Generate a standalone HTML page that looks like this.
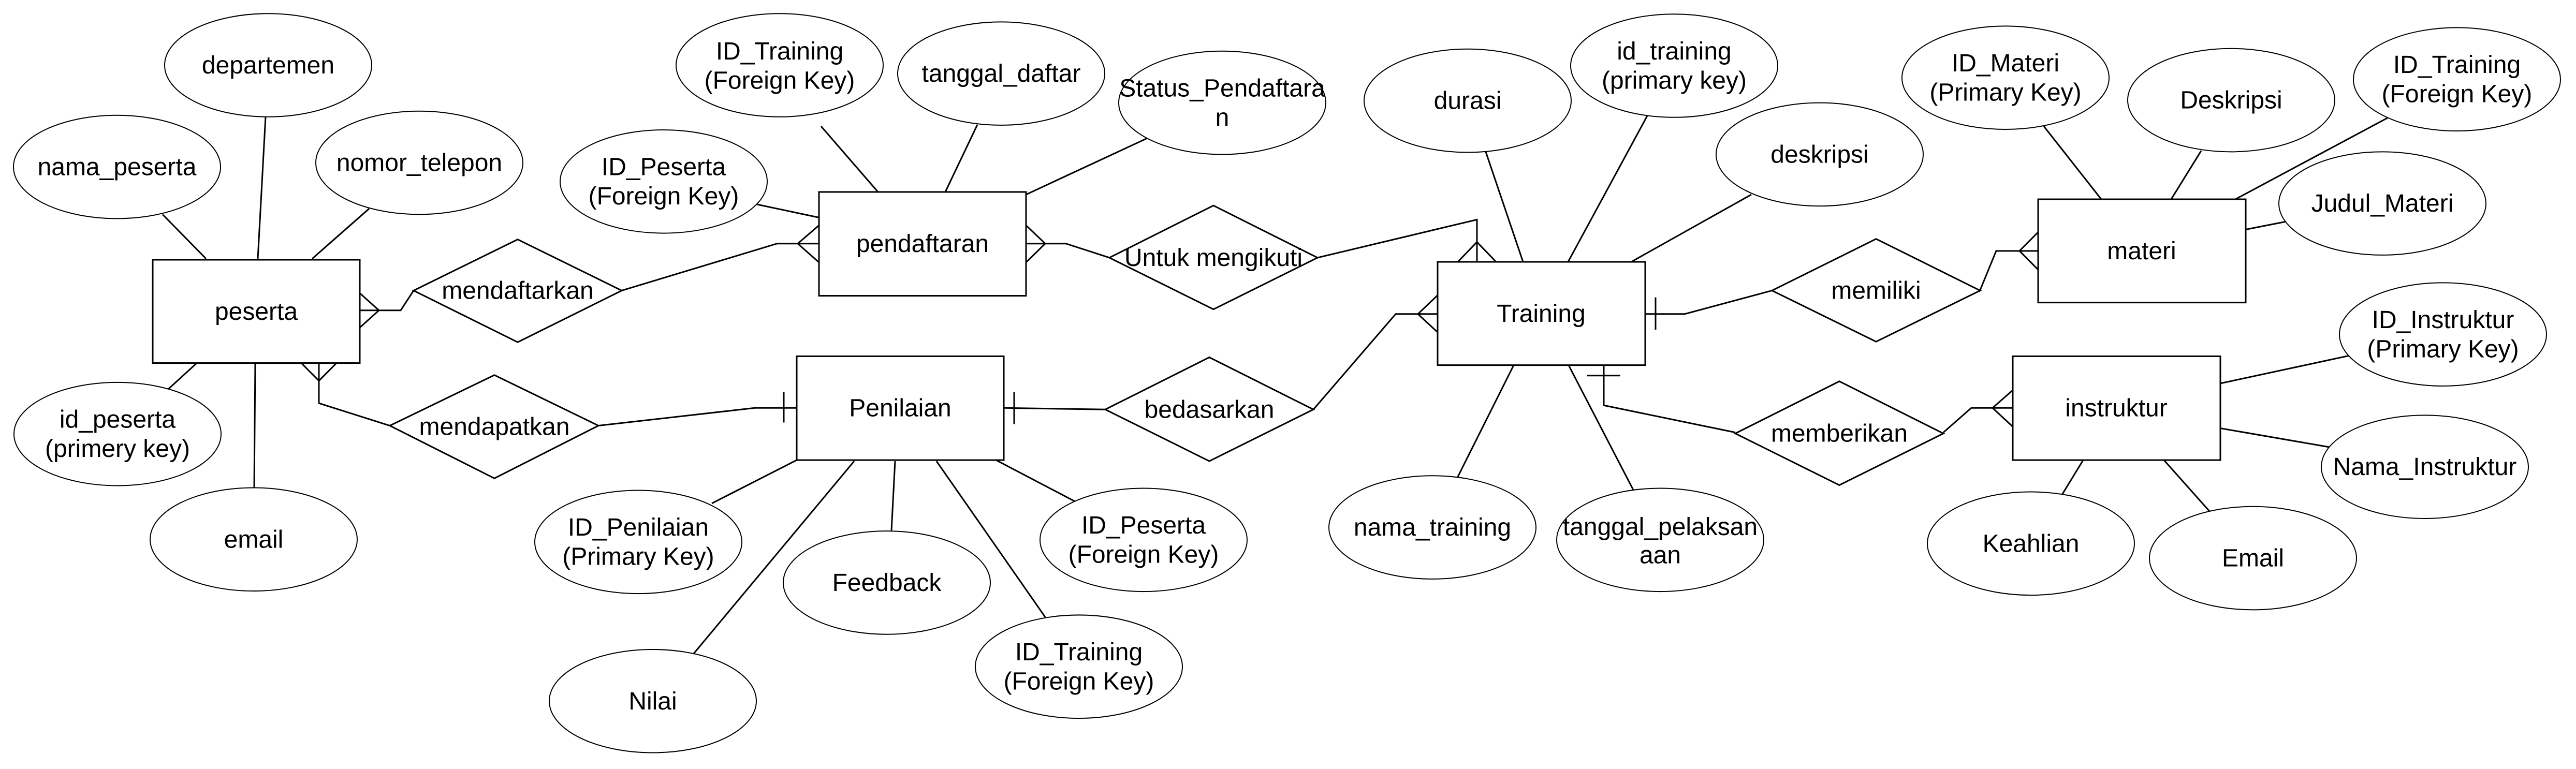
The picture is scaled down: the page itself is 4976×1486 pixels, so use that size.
<!DOCTYPE html>
<html><head><meta charset="utf-8"><style>
html,body{margin:0;padding:0;background:#fff;}
svg{display:block;}
text{font-family:"Liberation Sans",Arial,sans-serif;font-size:48px;fill:#000;text-anchor:middle;}
</style></head><body>
<svg width="4976" height="1486" viewBox="0 0 4976 1486" xmlns="http://www.w3.org/2000/svg">
<g transform="scale(1,1.008)">
<g fill="none" stroke="#000" stroke-width="3">
<!-- peserta attrs -->
<line x1="314" y1="411" x2="398" y2="496"/>
<line x1="513" y1="224" x2="498" y2="496"/>
<line x1="713" y1="400" x2="603" y2="496"/>
<line x1="379" y1="697" x2="325" y2="746"/>
<line x1="493" y1="697" x2="491" y2="935"/>
<!-- peserta - mendaftarkan - pendaftaran -->
<polyline points="695,595 774,595 799,557"/>
<polyline points="695,562 732,595 695,628"/>
<polyline points="1201,557 1501,467 1582,467"/>
<polyline points="1582,432 1541,467 1582,503"/>
<line x1="1463" y1="392" x2="1582" y2="417"/>
<line x1="1586" y1="242" x2="1696" y2="368"/>
<!-- peserta - mendapatkan - penilaian -->
<polyline points="582,696 616,730 650,696"/>
<polyline points="616,696 616,773 753,816"/>
<polyline points="1156,816 1458,782 1539,782"/>
<line x1="1514" y1="752" x2="1514" y2="810"/>
<line x1="1375" y1="965" x2="1539" y2="882"/>
<line x1="1340" y1="1253" x2="1650" y2="884"/>
<line x1="1729" y1="884" x2="1722" y2="1017"/>
<line x1="1809" y1="884" x2="2019" y2="1183"/>
<line x1="1924" y1="882" x2="2076" y2="961"/>
<!-- pendaftaran attrs -->
<line x1="1826" y1="368" x2="1888" y2="239"/>
<line x1="1982" y1="373" x2="2216" y2="265"/>
<!-- pendaftaran - untuk mengikuti - training -->
<polyline points="1982,432 2019,467 1982,503"/>
<polyline points="1982,467 2059,467 2143,494"/>
<polyline points="2545,494 2853,421 2853,502"/>
<polyline points="2816,502 2853,464 2890,502"/>
<!-- penilaian - bedasarkan - training -->
<line x1="1959" y1="752" x2="1959" y2="813"/>
<line x1="1939" y1="782" x2="2135" y2="785"/>
<polyline points="2537,785 2696,602 2777,602"/>
<polyline points="2777,566 2739,602 2777,637"/>
<!-- training attrs -->
<line x1="2870" y1="291" x2="2942" y2="502"/>
<line x1="3182" y1="222" x2="3029" y2="502"/>
<line x1="3383" y1="373" x2="3151" y2="502"/>
<line x1="2924" y1="700" x2="2816" y2="914"/>
<line x1="3030" y1="700" x2="3157" y2="943"/>
<!-- training - memiliki - materi -->
<line x1="3198" y1="570" x2="3198" y2="632"/>
<polyline points="3178,602 3254,602 3423,557"/>
<polyline points="3825,556 3856,481 3937,481"/>
<polyline points="3937,445 3901,481 3937,517"/>
<line x1="3948" y1="242" x2="4059" y2="382"/>
<line x1="4252" y1="289" x2="4194" y2="382"/>
<line x1="4612" y1="226" x2="4318" y2="382"/>
<line x1="4338" y1="440" x2="4415" y2="425"/>
<!-- training - memberikan - instruktur -->
<line x1="3066" y1="720" x2="3130" y2="720"/>
<polyline points="3098,700 3098,777 3352,829"/>
<polyline points="3754,829 3808,782 3888,782"/>
<polyline points="3888,748 3849,782 3888,818"/>
<line x1="4289" y1="735" x2="4537" y2="682"/>
<line x1="4289" y1="821" x2="4499" y2="857"/>
<line x1="4024" y1="882" x2="3984" y2="947"/>
<line x1="4180" y1="882" x2="4268" y2="980"/>
</g>
<g fill="#fff" stroke="#000" stroke-width="3">
<!-- entities -->
<rect x="295" y="498" width="400" height="198"/>
<rect x="1582" y="368" width="400" height="199"/>
<rect x="1539" y="683" width="400" height="199"/>
<rect x="2777" y="502" width="401" height="198"/>
<rect x="3937" y="382" width="401" height="198"/>
<rect x="3888" y="683" width="401" height="199"/>
<!-- diamonds -->
<polygon points="799,557 1000,459 1201,557 1000,656"/>
<polygon points="753,816 955,719 1156,816 955,917"/>
<polygon points="2143,494 2344,394 2545,494 2344,593"/>
<polygon points="2135,785 2336,685 2537,785 2336,884"/>
<polygon points="3423,557 3624,458 3825,557 3624,655"/>
<polygon points="3352,831 3553,731 3754,831 3553,930"/>
</g>
<g fill="#fff" stroke="#000" stroke-width="2">
<ellipse cx="518" cy="125" rx="200" ry="99"/>
<ellipse cx="226" cy="320" rx="200" ry="99"/>
<ellipse cx="810" cy="312" rx="200" ry="99"/>
<ellipse cx="227" cy="832" rx="200" ry="99"/>
<ellipse cx="490" cy="1034" rx="200" ry="99"/>
<ellipse cx="1506" cy="125" rx="200" ry="99"/>
<ellipse cx="1282" cy="348" rx="200" ry="99"/>
<ellipse cx="1934" cy="141" rx="200" ry="99"/>
<ellipse cx="2361" cy="197" rx="200" ry="99"/>
<ellipse cx="1233" cy="1039" rx="200" ry="99"/>
<ellipse cx="1261" cy="1344" rx="200" ry="99"/>
<ellipse cx="1713" cy="1117" rx="200" ry="99"/>
<ellipse cx="2209" cy="1035" rx="200" ry="99"/>
<ellipse cx="2084" cy="1278" rx="200" ry="99"/>
<ellipse cx="2835" cy="193" rx="200" ry="99"/>
<ellipse cx="3234" cy="126" rx="200" ry="99"/>
<ellipse cx="3515" cy="296" rx="200" ry="99"/>
<ellipse cx="2767" cy="1011" rx="200" ry="99"/>
<ellipse cx="3207" cy="1035" rx="200" ry="99"/>
<ellipse cx="3874" cy="149" rx="200" ry="99"/>
<ellipse cx="4310" cy="192" rx="200" ry="99"/>
<ellipse cx="4746" cy="152" rx="200" ry="99"/>
<ellipse cx="4602" cy="390" rx="200" ry="99"/>
<ellipse cx="4719" cy="641" rx="200" ry="99"/>
<ellipse cx="4684" cy="895" rx="200" ry="99"/>
<ellipse cx="3923" cy="1042" rx="200" ry="99"/>
<ellipse cx="4352" cy="1070" rx="200" ry="99"/>
</g>
<g dominant-baseline="central">
<text x="495" y="597">peserta</text>
<text x="1782" y="467">pendaftaran</text>
<text x="1739" y="782">Penilaian</text>
<text x="2977" y="601">Training</text>
<text x="4137" y="481">materi</text>
<text x="4088" y="782">instruktur</text>
<text x="1000" y="557">mendaftarkan</text>
<text x="955" y="818">mendapatkan</text>
<text x="2344" y="494">Untuk mengikuti</text>
<text x="2336" y="785">bedasarkan</text>
<text x="3624" y="557">memiliki</text>
<text x="3553" y="831">memberikan</text>
<text x="518" y="125">departemen</text>
<text x="226" y="320">nama_peserta</text>
<text x="810" y="312">nomor_telepon</text>
<text x="227" y="804">id_peserta</text><text x="227" y="860">(primery key)</text>
<text x="490" y="1034">email</text>
<text x="1506" y="98">ID_Training</text><text x="1506" y="154">(Foreign Key)</text>
<text x="1282" y="320">ID_Peserta</text><text x="1282" y="376">(Foreign Key)</text>
<text x="1934" y="141">tanggal_daftar</text>
<text x="2361" y="169">Status_Pendaftara</text><text x="2361" y="225">n</text>
<text x="1233" y="1011">ID_Penilaian</text><text x="1233" y="1067">(Primary Key)</text>
<text x="1261" y="1344">Nilai</text>
<text x="1713" y="1117">Feedback</text>
<text x="2209" y="1007">ID_Peserta</text><text x="2209" y="1063">(Foreign Key)</text>
<text x="2084" y="1250">ID_Training</text><text x="2084" y="1306">(Foreign Key)</text>
<text x="2835" y="193">durasi</text>
<text x="3234" y="98">id_training</text><text x="3234" y="154">(primary key)</text>
<text x="3515" y="296">deskripsi</text>
<text x="2767" y="1011">nama_training</text>
<text x="3207" y="1010">tanggal_pelaksan</text><text x="3207" y="1064">aan</text>
<text x="3874" y="121">ID_Materi</text><text x="3874" y="177">(Primary Key)</text>
<text x="4310" y="192">Deskripsi</text>
<text x="4746" y="124">ID_Training</text><text x="4746" y="180">(Foreign Key)</text>
<text x="4602" y="390">Judul_Materi</text>
<text x="4719" y="613">ID_Instruktur</text><text x="4719" y="669">(Primary Key)</text>
<text x="4684" y="895">Nama_Instruktur</text>
<text x="3923" y="1042">Keahlian</text>
<text x="4352" y="1070">Email</text>
</g>
</g>
</svg>
</body></html>
